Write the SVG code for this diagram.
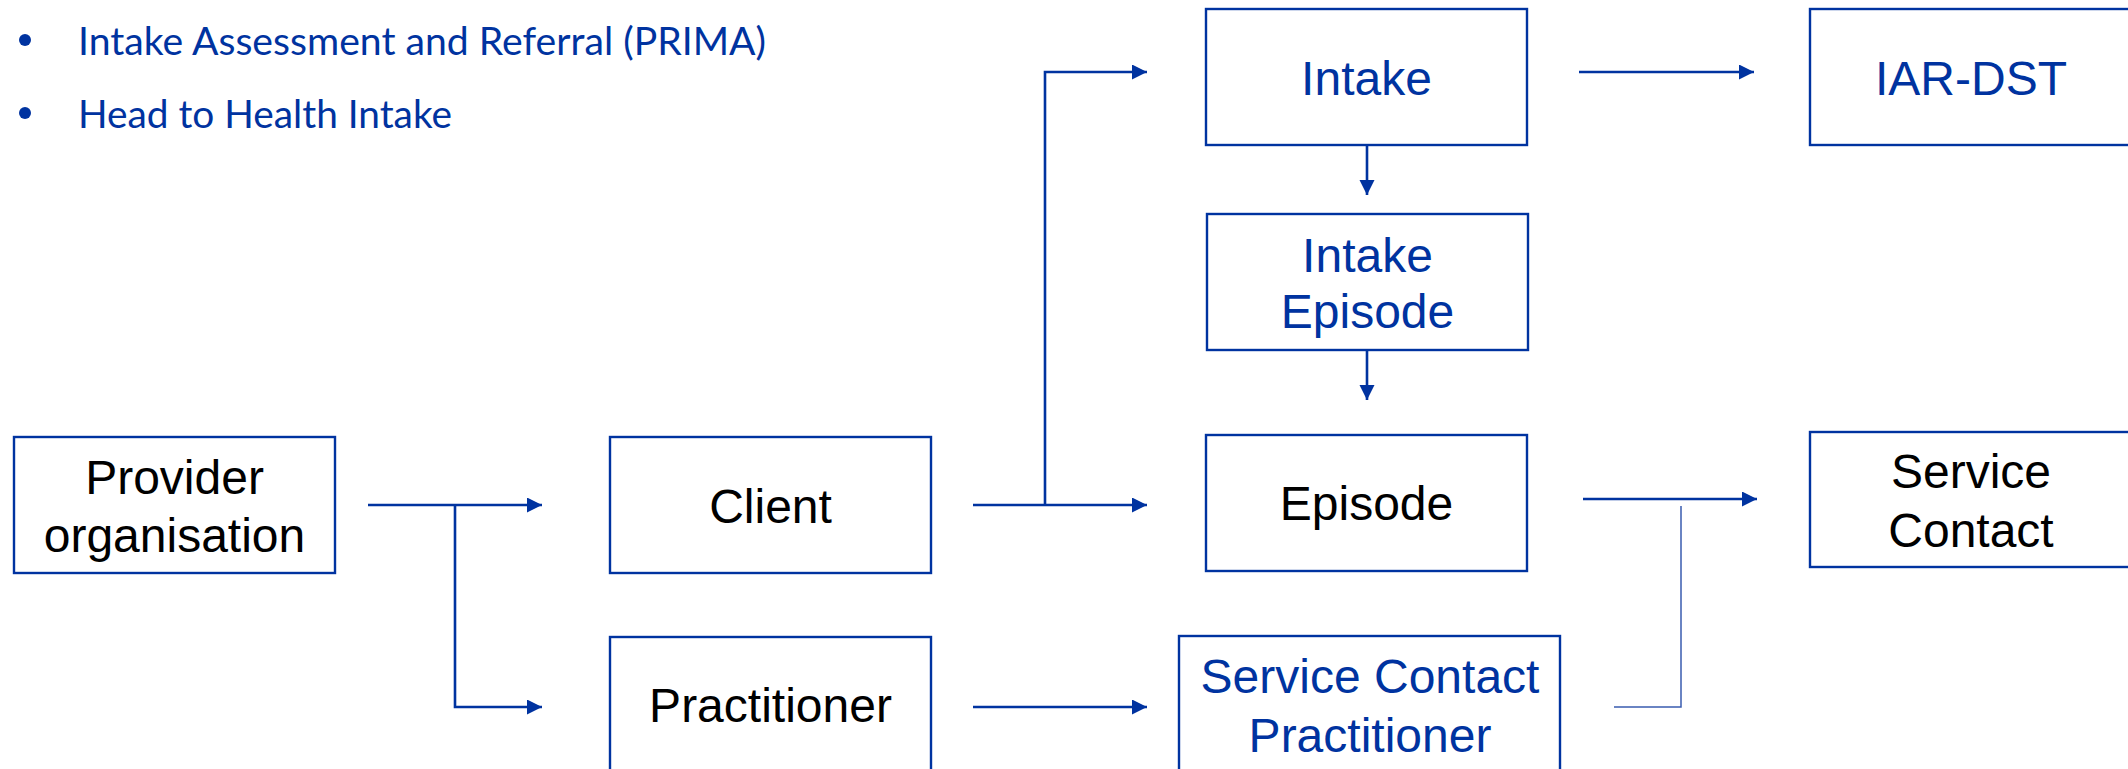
<svg xmlns="http://www.w3.org/2000/svg" width="2128" height="769" viewBox="0 0 2128 769">
  <defs>
    <style>
      .box { fill: #ffffff; stroke: #0033a0; stroke-width: 2.4; }
      .lbl { font-family: "Liberation Sans", Arial, sans-serif; font-size: 48px; text-anchor: middle; }
      .blk { fill: #000000; }
      .blu { fill: #0033a0; }
      .bul { font-family: Lato, "Open Sans", sans-serif; font-size: 38px; fill: #0033a0; }
      .conn { fill: none; stroke: #0033a0; stroke-width: 2.6; }
      .thin { fill: none; stroke: #3a5cb0; stroke-width: 1.5; }
    </style>
    <marker id="arr" markerUnits="userSpaceOnUse" markerWidth="16" markerHeight="16" refX="15" refY="7.5" orient="auto">
      <path d="M0,0 L15,7.5 L0,15 Z" fill="#0033a0"/>
    </marker>
  </defs>
  <rect width="2128" height="769" fill="#ffffff"/>

  <g id="bullets">
    <circle cx="25" cy="40" r="6" fill="#0033a0"/>
    <text class="bul" x="78" y="55" textLength="688" lengthAdjust="spacingAndGlyphs">Intake Assessment and Referral (PRIMA)</text>
    <circle cx="25" cy="113" r="6" fill="#0033a0"/>
    <text class="bul" x="78" y="128" textLength="374" lengthAdjust="spacingAndGlyphs">Head to Health Intake</text>
  </g>

  <g id="connectors">
    <path class="conn" d="M368,505 H542" marker-end="url(#arr)"/>
    <path class="conn" d="M455,505 V707 H542" marker-end="url(#arr)"/>
    <path class="conn" d="M973,505 H1147" marker-end="url(#arr)"/>
    <path class="conn" d="M1045,505 V72 H1147" marker-end="url(#arr)"/>
    <path class="conn" d="M1579,72 H1754" marker-end="url(#arr)"/>
    <path class="conn" d="M1367,145 V195" marker-end="url(#arr)"/>
    <path class="conn" d="M1367,350 V400" marker-end="url(#arr)"/>
    <path class="conn" d="M973,707 H1147" marker-end="url(#arr)"/>
    <path class="conn" d="M1583,499 H1757" marker-end="url(#arr)"/>
    <path class="thin" d="M1614,707 H1681 V506"/>
  </g>

  <g id="provider">
    <rect class="box" x="14" y="437" width="321" height="136"/>
    <text class="lbl blk" x="174.5" y="494">Provider</text>
    <text class="lbl blk" x="174.5" y="552">organisation</text>
  </g>
  <g id="client">
    <rect class="box" x="610" y="437" width="321" height="136"/>
    <text class="lbl blk" x="770.5" y="523">Client</text>
  </g>
  <g id="practitioner">
    <rect class="box" x="610" y="637" width="321" height="140"/>
    <text class="lbl blk" x="770.5" y="722">Practitioner</text>
  </g>
  <g id="intake">
    <rect class="box" x="1206" y="9" width="321" height="136"/>
    <text class="lbl blu" x="1366.5" y="95">Intake</text>
  </g>
  <g id="intake-episode">
    <rect class="box" x="1207" y="214" width="321" height="136"/>
    <text class="lbl blu" x="1367.5" y="272">Intake</text>
    <text class="lbl blu" x="1367.5" y="328">Episode</text>
  </g>
  <g id="episode">
    <rect class="box" x="1206" y="435" width="321" height="136"/>
    <text class="lbl blk" x="1366.5" y="520">Episode</text>
  </g>
  <g id="iar-dst">
    <rect class="box" x="1810" y="9" width="330" height="136"/>
    <text class="lbl blu" x="1971" y="95">IAR-DST</text>
  </g>
  <g id="service-contact">
    <rect class="box" x="1810" y="432" width="330" height="135"/>
    <text class="lbl blk" x="1971" y="488">Service</text>
    <text class="lbl blk" x="1971" y="547">Contact</text>
  </g>
  <g id="service-contact-practitioner">
    <rect class="box" x="1179" y="636" width="381" height="141"/>
    <text class="lbl blu" x="1370" y="693">Service Contact</text>
    <text class="lbl blu" x="1370" y="752">Practitioner</text>
  </g>
</svg>
